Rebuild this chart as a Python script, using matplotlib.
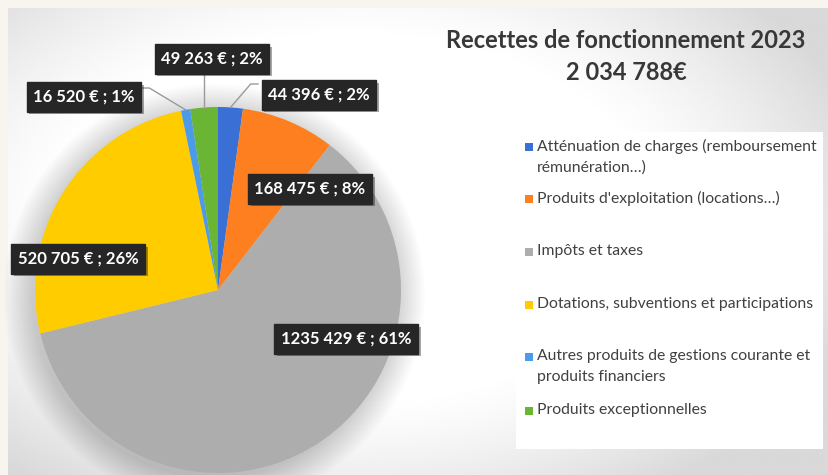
import numpy as np
import matplotlib.pyplot as plt
from matplotlib.patches import Rectangle, Circle
import matplotlib.patheffects as pe

# Données
categories = ['Atténuation de charges (remboursement\nrémunération…)',
              "Produits d'exploitation (locations…)",
              'Impôts et taxes',
              'Dotations, subventions et participations',
              'Autres produits de gestions courante et\nproduits financiers',
              'Produits exceptionnelles']
montants = [44396, 168475, 1235429, 520705, 16520, 49263]
etiquettes = ['44 396 € ; 2%', '168 475 € ; 8%', '1235 429 € ; 61%',
              '520 705 € ; 26%', '16 520 € ; 1%', '49 263 € ; 2%']
couleurs = ['#3a6fd6', '#fd7f20', '#adadad', '#ffcc00', '#4c9be8', '#6ab534']
titre = 'Recettes de fonctionnement 2023\n2 034 788€'

W, H = 829, 475
fig = plt.figure(figsize=(W / 100, H / 100), dpi=100, facecolor='#f8f5ee')
police = 'Lato'

def fx(px):
    return px / W

def fy(py):
    return 1 - py / H

# fond du panneau en dégradé
ax_bg = fig.add_axes([fx(8), 0, 1 - fx(8), 1 - 8 / H])
ny, nx = 200, 300
xx, yy = np.meshgrid(np.linspace(0, 1, nx), np.linspace(0, 1, ny))
r = np.sqrt(((xx - 0.42) / 0.65) ** 2 + ((yy - 0.45) / 0.7) ** 2)
val = 1 - 0.15 * np.clip((r - 0.55) / 0.45, 0, 1) ** 1.3
ax_bg.imshow(val, cmap='gray', vmin=0, vmax=1, aspect='auto', extent=[0, 1, 1, 0])
ax_bg.axis('off')

# boîte de légende blanche
fig.patches.append(Rectangle((fx(516), fy(449)), fx(823 - 516), (449 - 132) / H,
                             transform=fig.transFigure, facecolor='white',
                             edgecolor='none', zorder=1))

# camembert
cx, cy, rad = 218, 290, 183
ax = fig.add_axes([fx(cx - rad), fy(cy + rad), 2 * rad / W, 2 * rad / H])
for i in range(16):
    ax.add_patch(Circle((-0.02, -0.025), 1 + 0.01 * i, color='black',
                        alpha=0.013, lw=0, clip_on=False, zorder=0))
wedges, _ = ax.pie(montants, colors=couleurs, startangle=90, counterclock=False,
                   radius=1, wedgeprops=dict(linewidth=0), normalize=True)
for w in wedges:
    w.set_zorder(2)
ax.set_xlim(-1, 1)
ax.set_ylim(-1, 1)
ax.set_aspect('equal')
ax.axis('off')

# positions des étiquettes (pixels, centre de la boîte)
pos_etiq = [(319, 95), (310, 189), (346, 339), (78, 259), (84, 97), (212, 59)]
coude = [(258, 84), None, None, None, (142, 88), None]

def to_data(px, py):
    return (px - cx) / rad, (cy - py) / rad

for w, txt, (px, py), c in zip(wedges, etiquettes, pos_etiq, coude):
    ang = np.deg2rad((w.theta1 + w.theta2) / 2)
    if c is not None or txt.startswith('49'):
        x0, y0 = np.cos(ang), np.sin(ang)
        if c is None:
            pts = [(x0, y0), (x0, to_data(px, py + 14)[1])]
        else:
            xb, yb = to_data(*c)
            xk = xb - 0.04 if c[0] > cx else xb + 0.04
            pts = [(x0, y0), (xk, yb), (xb, yb)]
        xs, ys = zip(*pts)
        ax.plot(xs, ys, color='#9a9a9a', lw=1, clip_on=False, zorder=3)
    tx, ty = to_data(px, py)
    t = ax.text(tx, ty, txt, ha='center', va='center', color='white',
                fontsize=12, fontweight='bold', family=police, zorder=5,
                bbox=dict(boxstyle='square,pad=0.4', facecolor='#262626',
                          edgecolor='#262626'))
    t.get_bbox_patch().set_path_effects([
        pe.withSimplePatchShadow(offset=(2, -2), shadow_rgbFace='black', alpha=0.35)])

# titre
fig.text(fx(626), fy(40), titre.split('\n')[0], ha='center', va='center',
         fontsize=17, fontweight='bold', family=police, color='#383838')
fig.text(fx(626), fy(72), titre.split('\n')[1], ha='center', va='center',
         fontsize=17, fontweight='bold', family=police, color='#383838')

# légende manuelle
leg_y = [147, 199, 252, 305, 357, 411]
for lab, col, ly in zip(categories, couleurs, leg_y):
    fig.patches.append(Rectangle((fx(525), fy(ly + 4)), fx(8), 8 / H,
                                 transform=fig.transFigure, facecolor=col,
                                 edgecolor='none', zorder=2))
    fig.text(fx(537), fy(ly - 8), lab, ha='left', va='top', fontsize=11.3,
             family=police, color='#404040', linespacing=1.6)

fig.savefig('out.png', dpi=100, facecolor=fig.get_facecolor())
